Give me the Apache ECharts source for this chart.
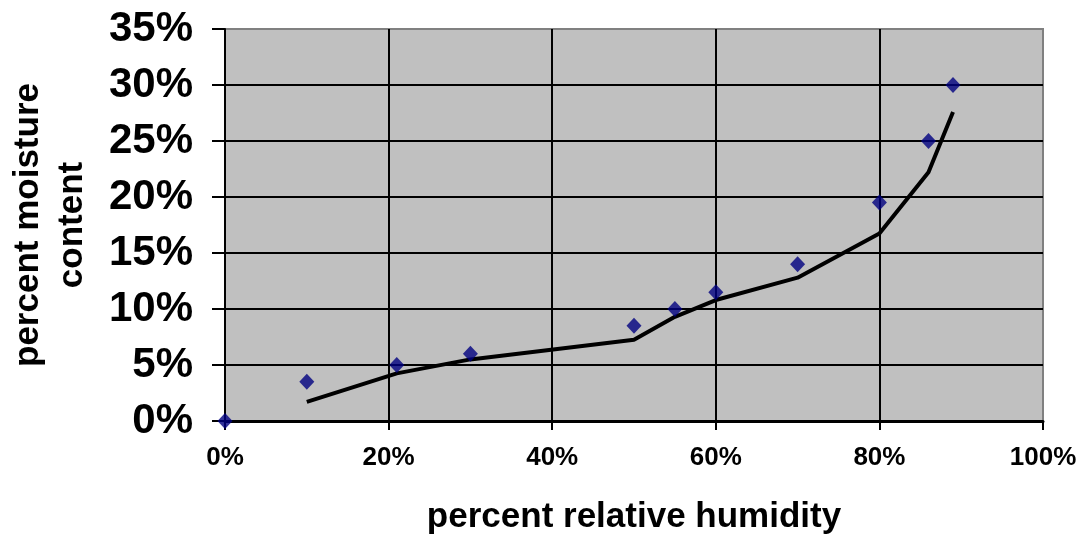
<!DOCTYPE html>
<html>
<head>
<meta charset="utf-8">
<script src="https://cdn.jsdelivr.net/npm/echarts@6/dist/echarts.min.js"></script>
<style>
html,body{margin:0;padding:0;background:#fff;}
#chart{width:1082px;height:535px;}
</style>
</head>
<body>
<div id="chart"></div>
<script>
// Measured points: relative humidity (%) vs moisture content (%)
const humidity = [0, 10, 21, 30, 50, 55, 60, 70, 80, 86, 89];
const moisture = [0, 3.5, 5, 6, 8.5, 10, 11.5, 14, 19.5, 25, 30];
// Trend line vertices
const trendX = [10, 21, 30, 50, 55, 60, 70, 80, 86, 89];
const trendY = [1.7, 4.25, 5.5, 7.25, 9.3, 10.8, 12.8, 16.75, 22.2, 27.6];
const xTitle = 'percent relative humidity';
const yTitle = 'percent moisture\ncontent';

const FONT = '"Liberation Sans", Arial, sans-serif';
const chart = echarts.init(document.getElementById('chart'));
chart.setOption({
  animation: false,
  backgroundColor: '#ffffff',
  grid: {
    left: 225, top: 29, right: 39, bottom: 114,
    outerBoundsMode: 'none', containLabel: false,
    show: true, backgroundColor: '#c0c0c0', borderColor: '#808080', borderWidth: 2
  },
  xAxis: {
    type: 'value', min: 0, max: 100, interval: 20,
    name: xTitle, nameLocation: 'middle', nameGap: 96,
    nameTextStyle: { fontFamily: FONT, fontWeight: 'bold', fontSize: 35, color: '#000', verticalAlign: 'middle' },
    axisLine: { show: true, onZero: false, lineStyle: { color: '#000', width: 3 } },
    axisTick: { show: true, length: 9, lineStyle: { color: '#000', width: 2 } },
    axisLabel: { formatter: '{value}%', margin: 24, fontFamily: FONT, fontWeight: 'bold', fontSize: 26, color: '#000' },
    splitLine: { show: true, showMinLine: false, showMaxLine: false, lineStyle: { color: '#000', width: 2 } }
  },
  yAxis: {
    type: 'value', min: 0, max: 35, interval: 5,
    name: yTitle, nameLocation: 'middle', nameGap: 175, nameRotate: 90,
    nameTextStyle: { fontFamily: FONT, fontWeight: 'bold', fontSize: 35, color: '#000', lineHeight: 44, align: 'center', verticalAlign: 'middle' },
    axisLine: { show: true, onZero: false, lineStyle: { color: '#000', width: 2 } },
    axisTick: { show: true, length: 13, lineStyle: { color: '#000', width: 2 } },
    axisLabel: { formatter: '{value}%', margin: 32, fontFamily: FONT, fontWeight: 'bold', fontSize: 42, color: '#000' },
    splitLine: { show: true, showMinLine: false, showMaxLine: false, lineStyle: { color: '#000', width: 2 } }
  },
  series: [
    {
      type: 'line',
      data: trendX.map((x, i) => [x, trendY[i]]),
      symbol: 'none',
      lineStyle: { color: '#000', width: 4 },
      z: 3
    },
    {
      type: 'scatter',
      data: humidity.map((x, i) => [x, moisture[i]]),
      symbol: 'diamond',
      symbolSize: [15, 16],
      itemStyle: { color: '#000080' },
      clip: false,
      z: 4
    }
  ]
});
</script>
</body>
</html>
